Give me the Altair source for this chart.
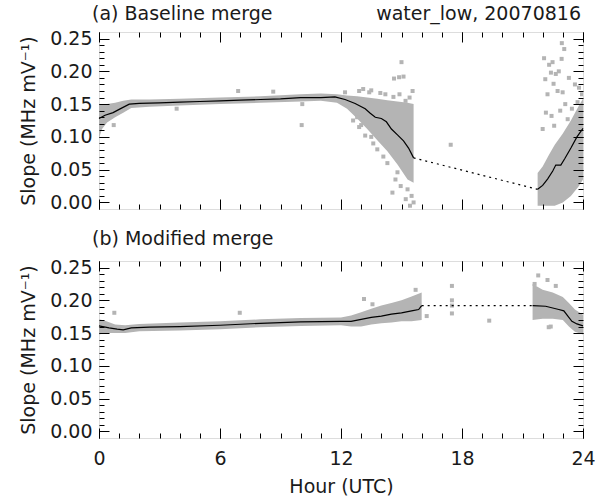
import altair as alt
import pandas as pd

FONT = "DejaVu Sans"
GREY = "#b4b4b4"
INK = "#1a1a1a"

# ---------------- Panel (a): Baseline merge ----------------
A_LINE1_H = [0, 0.3, 0.7, 1.0, 1.5, 2, 3, 4, 5, 6, 7, 8, 9, 10, 11, 11.7, 12.2, 12.7,
             13.2, 13.45, 13.7, 14.0, 14.25, 14.5, 14.8, 15.1, 15.35, 15.6]
A_LINE1_V = [0.128, 0.133, 0.137, 0.142, 0.150, 0.151, 0.152, 0.153, 0.154, 0.155, 0.156,
             0.157, 0.158, 0.160, 0.160, 0.161, 0.157, 0.151, 0.143, 0.136, 0.130, 0.128,
             0.123, 0.112, 0.103, 0.094, 0.083, 0.068]
A_LINE2_H = [21.75, 22.0, 22.25, 22.5, 22.65, 22.9, 23.1, 23.4, 23.7, 24.0]
A_LINE2_V = [0.020, 0.026, 0.036, 0.048, 0.057, 0.057, 0.067, 0.083, 0.100, 0.113]

A_BAND1_H = [0.0, 0.15, 0.4, 0.8, 1.2, 1.6, 2.5, 4, 6, 8, 10, 11, 11.8, 12.3, 12.8,
             13.3, 13.8, 14.3, 14.8, 15.3, 15.6]
A_BAND1_LO = [0.098, 0.112, 0.122, 0.130, 0.137, 0.144, 0.146, 0.148, 0.150, 0.152, 0.154,
              0.155, 0.152, 0.143, 0.128, 0.112, 0.095, 0.078, 0.058, 0.035, 0.030]
A_BAND1_HI = [0.150, 0.150, 0.150, 0.152, 0.155, 0.157, 0.157, 0.158, 0.160, 0.162, 0.165,
              0.166, 0.165, 0.163, 0.162, 0.160, 0.158, 0.156, 0.154, 0.152, 0.150]
A_BAND2_H = [21.75, 22.0, 22.3, 22.6, 23.0, 23.4, 23.8, 24.0]
A_BAND2_LO = [-0.005, -0.005, -0.005, -0.005, 0.0, 0.010, 0.025, 0.035]
A_BAND2_HI = [0.045, 0.055, 0.072, 0.088, 0.105, 0.125, 0.148, 0.158]

A_PTS_H = [0.73, 3.85, 6.9, 8.64, 10.08, 10.05, 13.1, 13.5, 13.95, 14.6, 15.2, 14.63, 14.88,
           15.1, 15.0, 17.44, 15.42, 14.55, 14.96, 15.21, 14.8, 13.2, 13.8, 13.6, 14.1, 14.3,
           14.7, 15.5, 15.6, 15.3, 12.6, 12.9, 12.2, 12.9, 13.4, 14.2, 15.4, 15.55, 14.9,
           13.0, 13.5, 12.8,
           22.95, 22.07, 22.49, 22.41, 22.13, 22.65, 22.54, 22.24, 22.74, 22.99, 23.12,
           23.45, 22.44, 22.16, 22.87, 22.0, 22.57, 23.24, 23.73, 23.9, 23.07, 22.94,
           22.32, 23.3, 23.6, 23.8, 22.8, 23.95]
A_PTS_V = [0.118, 0.143, 0.170, 0.169, 0.150, 0.118, 0.173, 0.171, 0.167, 0.161, 0.155, 0.189,
           0.191, 0.192, 0.214, 0.088, -0.005, 0.015, 0.025, 0.005, 0.046, 0.102, 0.081, 0.090,
           0.070, 0.060, 0.035, 0.010, 0.000, 0.020, 0.125, 0.115, 0.168, 0.170, 0.168,
           0.165, 0.160, 0.170, 0.165, 0.118, 0.100, 0.130,
           0.243, 0.220, 0.214, 0.198, 0.188, 0.196, 0.181, 0.165, 0.170, 0.168, 0.150,
           0.143, 0.132, 0.137, 0.140, 0.112, 0.117, 0.127, 0.153, 0.143, 0.234, 0.219,
           0.210, 0.190, 0.180, 0.175, 0.200, 0.165]

# ---------------- Panel (b): Modified merge ----------------
B_LINE1_H = [0, 0.5, 0.9, 1.2, 1.6, 2.5, 4, 6, 8, 10, 12, 12.5, 13, 13.5, 14, 14.5, 15,
             15.5, 15.85, 16.0]
B_LINE1_V = [0.161, 0.158, 0.156, 0.155, 0.158, 0.159, 0.160, 0.162, 0.165, 0.167, 0.168,
             0.168, 0.171, 0.174, 0.176, 0.179, 0.181, 0.184, 0.186, 0.192]
B_LINE2_H = [21.5, 22.15, 22.8, 23.05, 23.25, 23.45, 23.7, 24.0]
B_LINE2_V = [0.192, 0.191, 0.186, 0.184, 0.176, 0.168, 0.164, 0.161]

B_BAND1_H = [0, 0.3, 0.8, 1.3, 2, 4, 6, 8, 10, 12, 12.5, 13, 13.5, 14, 14.5, 15, 15.5, 16.0]
B_BAND1_LO = [0.148, 0.150, 0.150, 0.150, 0.153, 0.154, 0.156, 0.159, 0.161, 0.162, 0.160,
              0.160, 0.163, 0.165, 0.166, 0.168, 0.168, 0.170]
B_BAND1_HI = [0.171, 0.169, 0.163, 0.162, 0.164, 0.166, 0.168, 0.171, 0.173, 0.174, 0.177,
              0.182, 0.187, 0.192, 0.196, 0.200, 0.206, 0.212]
B_BAND2_H = [21.5, 22.0, 22.5, 23.0, 23.3, 23.6, 24.0]
B_BAND2_LO = [0.170, 0.172, 0.172, 0.170, 0.160, 0.152, 0.148]
B_BAND2_HI = [0.225, 0.216, 0.212, 0.205, 0.196, 0.186, 0.178]

B_PTS_H = [0.76, 6.98, 13.14, 13.56, 16.25, 17.5, 17.5, 17.5, 17.5, 19.35, 21.78, 22.24,
           21.6, 22.4, 15.7, 22.65, 22.3]
B_PTS_V = [0.181, 0.181, 0.202, 0.194, 0.176, 0.222, 0.200, 0.192, 0.180, 0.169, 0.238,
           0.231, 0.225, 0.160, 0.216, 0.222, 0.159]

TITLE_A = "(a) Baseline merge"
TITLE_B = "(b) Modified merge"
CASE_LABEL = "water_low, 20070816"
Y_TITLE = "Slope (MHz mV\u207b\u00b9)"
X_TITLE = "Hour (UTC)"

X_MAJOR = [0, 6, 12, 18, 24]
X_MINOR = list(range(0, 25))
Y_MAJOR = [0.0, 0.05, 0.10, 0.15, 0.20, 0.25]
Y_MINOR = [round(0.01 * i, 2) for i in range(0, 26)]

W, H = 484, 177
MAJ, MIN = 10, 5

xs = alt.Scale(domain=[0, 24], nice=False, zero=False)
ys = alt.Scale(domain=[-0.01, 0.26], nice=False, zero=False)


def axis(orient, values, size, **kw):
    # ticks point into the plot: the axis is pulled inside by its own tick length
    base = dict(orient=orient, values=values, tickSize=size, offset=-size, domain=False,
                grid=False, ticks=True, tickColor="black", tickWidth=1, tickOpacity=1,
                labels=False, title=None, zindex=2)
    base.update(kw)
    return alt.Axis(**base)


LABEL_STYLE = dict(labels=True, labelFont=FONT, labelFontSize=19, labelColor=INK,
                   labelFlush=False, labelOverlap=False)


def panel(band, line1, line2, pts, title, title_y, with_xlabels, extra=None):
    bh, blo, bhi, bh2, blo2, bhi2 = band
    band_df = pd.DataFrame({
        "h": bh + bh2, "lo": blo + blo2, "hi": bhi + bhi2,
        "seg": ["s1"] * len(bh) + ["s2"] * len(bh2)})
    line_df = pd.DataFrame({
        "h": line1[0] + line2[0], "v": line1[1] + line2[1],
        "seg": ["s1"] * len(line1[0]) + ["s2"] * len(line2[0])})
    gap_df = pd.DataFrame({"h": [line1[0][-1], line2[0][0]],
                           "v": [line1[1][-1], line2[1][0]]})
    pts_df = pd.DataFrame({"h": pts[0], "v": pts[1]})

    if with_xlabels:
        xmaj = axis("bottom", X_MAJOR, MAJ, format="d", labelPadding=11,
                    title=X_TITLE, titleFont=FONT, titleFontSize=19,
                    titleFontWeight="normal", titleColor=INK, titlePadding=9,
                    **LABEL_STYLE)
    else:
        xmaj = axis("bottom", X_MAJOR, MAJ)
    ymaj = axis("left", Y_MAJOR, MAJ, format=".2f", labelPadding=7,
                title=Y_TITLE, titleFont=FONT, titleFontSize=19,
                titleFontWeight="normal", titleColor=INK, titlePadding=11,
                **LABEL_STYLE)

    area = alt.Chart(band_df).mark_area(color=GREY, opacity=1, clip=True).encode(
        x=alt.X("h:Q", scale=xs, axis=xmaj),
        y=alt.Y("lo:Q", scale=ys, axis=ymaj),
        y2="hi:Q",
        detail="seg:N")
    dots = alt.Chart(pts_df).mark_square(color=GREY, size=16, opacity=1, clip=True).encode(
        x=alt.X("h:Q", scale=xs, axis=axis("bottom", X_MINOR, MIN)),
        y=alt.Y("v:Q", scale=ys, axis=axis("left", Y_MINOR, MIN)))
    line = alt.Chart(line_df).mark_line(color="black", strokeWidth=1.2).encode(
        x=alt.X("h:Q", scale=xs, axis=axis("top", X_MAJOR, MAJ)),
        y=alt.Y("v:Q", scale=ys, axis=axis("right", Y_MAJOR, MAJ)),
        detail="seg:N")
    gap = alt.Chart(gap_df).mark_line(color="black", strokeWidth=1.2,
                                      strokeDash=[2, 4]).encode(
        x=alt.X("h:Q", scale=xs, axis=axis("top", X_MINOR, MIN)),
        y=alt.Y("v:Q", scale=ys, axis=axis("right", Y_MINOR, MIN)))
    layers = [area, dots, line, gap]

    ttl = alt.Chart(pd.DataFrame({"t": [title]})).mark_text(
        font=FONT, fontSize=19, color=INK, align="left", baseline="middle").encode(
        x=alt.value(-7), y=alt.value(title_y), text="t:N")
    layers.append(ttl)
    if extra:
        txt = alt.Chart(pd.DataFrame({"t": [extra]})).mark_text(
            font=FONT, fontSize=19, color=INK, align="right", baseline="middle").encode(
            x=alt.value(W - 2), y=alt.value(title_y), text="t:N")
        layers.append(txt)
    return alt.layer(*layers).resolve_axis(x="independent", y="independent").properties(
        width=W, height=H)


pa = panel((A_BAND1_H, A_BAND1_LO, A_BAND1_HI, A_BAND2_H, A_BAND2_LO, A_BAND2_HI),
           (A_LINE1_H, A_LINE1_V), (A_LINE2_H, A_LINE2_V), (A_PTS_H, A_PTS_V),
           TITLE_A, -18, False, CASE_LABEL)
pb = panel((B_BAND1_H, B_BAND1_LO, B_BAND1_HI, B_BAND2_H, B_BAND2_LO, B_BAND2_HI),
           (B_LINE1_H, B_LINE1_V), (B_LINE2_H, B_LINE2_V), (B_PTS_H, B_PTS_V),
           TITLE_B, -22, True)

chart = alt.vconcat(pa, pb, spacing=16).properties(
    padding={"left": 19, "top": 4, "right": 5, "bottom": 2}
).configure_view(stroke="black", strokeWidth=1).configure(background="white")

chart.save("out.html", embed_options={"renderer": "svg", "actions": False})
